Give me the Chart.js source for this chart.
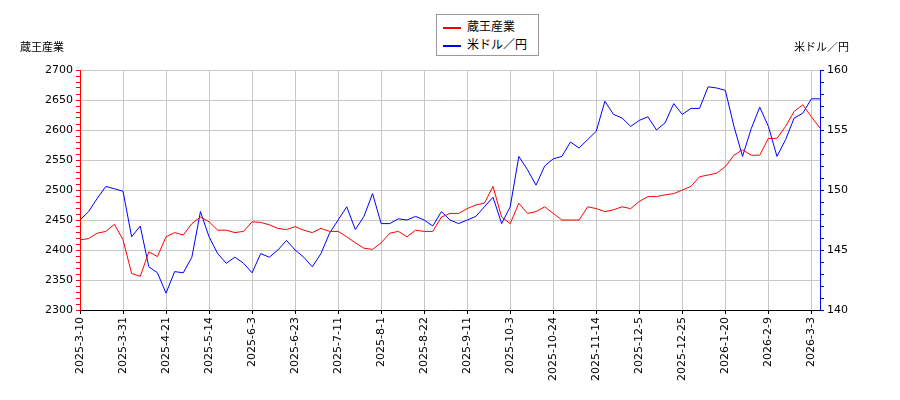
<!DOCTYPE html>
<html>
<head>
<meta charset="utf-8">
<script src="https://cdn.jsdelivr.net/npm/chart.js@4"></script>
<style>
  body { margin: 0; background: #fff; font-family: "Noto Sans CJK JP", sans-serif; }
  #wrap { position: relative; width: 900px; height: 400px; }
  .lbl { position: absolute; font-size: 11px; color: #000; }
  #legend { position: absolute; left: 436px; top: 14px; width: 103px; height: 42px;
            border: 1px solid #999; background: #fff; font-size: 12px; box-sizing: border-box; padding: 2px 0 0 6px; }
  #legend div { height: 18px; line-height: 18px; }
  #legend span { display: inline-block; width: 18px; height: 2px; vertical-align: middle; margin-right: 6px; }
</style>
</head>
<body>
<div id="wrap">
  <canvas id="c" width="900" height="400"></canvas>
  <div class="lbl" style="left:20px;top:38px">蔵王産業</div>
  <div class="lbl" style="left:794px;top:38px">米ドル／円</div>
  <div id="legend">
    <div><span style="background:#ff0000"></span>蔵王産業</div>
    <div><span style="background:#0000ff"></span>米ドル／円</div>
  </div>
</div>
<script>
// tick dates, one every 5 points (points are ~3 trading days apart)
const tickLabels = ['2025-3-10','2025-3-31','2025-4-21','2025-5-14','2025-6-3','2025-6-23',
  '2025-7-11','2025-8-1','2025-8-22','2025-9-11','2025-10-3','2025-10-24','2025-11-14',
  '2025-12-5','2025-12-25','2026-1-20','2026-2-9','2026-3-3'];

const zaoPrice = [2417,2419,2428,2431,2443,2417,2361,2356,2397,2389,
  2422,2429,2425,2444,2455,2447,2433,2433,2429,2431,
  2447,2446,2442,2436,2434,2439,2433,2429,2436,2431,
  2431,2422,2412,2403,2401,2412,2428,2431,2422,2433,
  2431,2431,2455,2461,2461,2469,2475,2478,2506,2455,
  2444,2478,2461,2464,2472,2461,2450,2450,2450,2472,
  2469,2464,2467,2472,2469,2481,2489,2489,2492,2494,
  2500,2506,2522,2525,2528,2539,2558,2567,2558,2558,
  2586,2586,2606,2631,2642,2622,2603];

const usdJpy = [147.5,148.2,149.3,150.3,150.1,149.9,146.1,147.0,143.6,143.1,
  141.4,143.2,143.1,144.4,148.2,146.1,144.7,143.9,144.4,143.9,
  143.1,144.7,144.4,145.0,145.8,145.0,144.4,143.6,144.7,146.4,
  147.5,148.6,146.7,147.8,149.7,147.2,147.2,147.6,147.5,147.8,
  147.5,147.0,148.2,147.5,147.2,147.5,147.8,148.6,149.4,147.2,
  148.6,152.8,151.7,150.4,152.0,152.6,152.8,154.0,153.5,154.2,
  154.9,157.4,156.3,156.0,155.3,155.8,156.1,155.0,155.6,157.2,
  156.3,156.8,156.8,158.6,158.5,158.3,155.3,152.8,155.1,156.9,
  155.3,152.8,154.2,156.0,156.4,157.6,157.6];

const labels = zaoPrice.map((_, i) => i % 5 === 0 ? tickLabels[i / 5] : '');
const font = { family: 'DejaVu Sans', size: 11 };

new Chart(document.getElementById('c'), {
  type: 'line',
  data: {
    labels,
    datasets: [
      { label: '蔵王産業', data: zaoPrice, yAxisID: 'y', borderColor: '#ff0000',
        borderWidth: 1, pointRadius: 0, tension: 0 },
      { label: '米ドル／円', data: usdJpy, yAxisID: 'y1', borderColor: '#0000ff',
        borderWidth: 1, pointRadius: 0, tension: 0 }
    ]
  },
  options: {
    responsive: false,
    animation: false,
    layout: { padding: { top: 70, left: 0, right: 0, bottom: 0 } },
    plugins: { legend: { display: false }, tooltip: { enabled: false } },
    scales: {
      x: {
        offset: false,
        afterFit: s => { s.height = 90; },
        grid: { color: c => labels[c.index] ? '#c8c8c8' : 'transparent',
                tickColor: c => labels[c.index] ? '#000' : 'transparent', tickLength: 4 },
        border: { color: '#000' },
        ticks: { autoSkip: false, minRotation: 90, maxRotation: 90, color: '#000', font,
                 callback: (v, i) => labels[i] }
      },
      y: {
        position: 'left', min: 2300, max: 2700,
        afterFit: s => { s.width = 80; },
        grid: { color: c => c.tick.value % 50 === 0 ? '#c8c8c8' : 'transparent',
                tickColor: '#ff0000', tickLength: 4 },
        border: { color: '#ff0000' },
        ticks: { stepSize: 10, autoSkip: false, color: '#000', font,
                 callback: v => v % 50 === 0 ? v : '' }
      },
      y1: {
        position: 'right', min: 140, max: 160,
        afterFit: s => { s.width = 80; },
        grid: { drawOnChartArea: false, tickColor: '#0000ff', tickLength: 4 },
        border: { color: '#0000ff' },
        ticks: { stepSize: 1, autoSkip: false, color: '#000', font,
                 callback: v => v % 5 === 0 ? v : '' }
      }
    }
  }
});
</script>
</body>
</html>
